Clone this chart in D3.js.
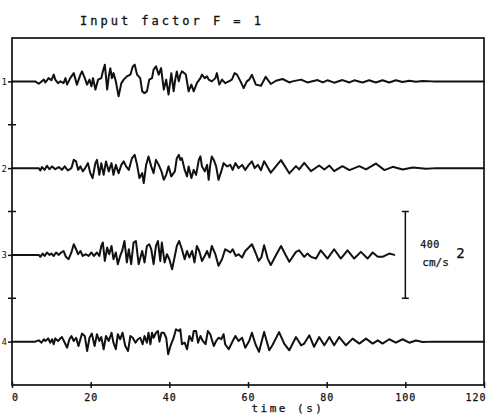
<!DOCTYPE html>
<html><head><meta charset="utf-8">
<script src="https://cdn.jsdelivr.net/npm/d3@7"></script>
<style>body{margin:0;background:#fff} svg{display:block}</style>
</head><body>
<script>
// ---- data (time in s, acceleration in cm/s^2) ----
const title = "Input factor F = 1";
const traceLabels = ["1", "2", "3", "4"];
const xTicks = [0, 20, 40, 60, 80, 100, 120];
const scaleBarValue = 400;     // cm/s^2
const scaleBarTime = 100;      // s
const xLabel = "time (s)";

const trace1 = [[0,0],[5.9,0],[6.8,-11],[8.1,8],[8.5,-5],[9.3,15],[10.0,5],[10.6,31],[11.0,8],[11.7,-8],[12.3,0],[13.1,-8],[13.6,15],[14.0,-15],[14.8,15],[15.7,38],[16.5,-15],[17.4,31],[17.8,46],[18.5,15],[19.1,-15],[19.7,8],[20.2,-23],[20.6,15],[21.2,-38],[21.9,8],[22.7,15],[23.1,46],[23.6,77],[24.2,-38],[24.6,23],[25.0,61],[25.4,15],[25.8,38],[26.4,0],[27.1,-69],[27.8,-8],[28.4,8],[29.2,23],[30.1,31],[30.7,69],[31.2,77],[31.8,31],[32.6,15],[33.1,-46],[33.7,-54],[34.3,-46],[34.9,8],[35.6,15],[36.0,54],[36.6,69],[37.3,31],[37.9,61],[38.6,-38],[39.2,8],[39.8,-61],[40.5,38],[41.1,-46],[41.5,8],[41.9,46],[42.4,0],[42.8,31],[43.2,46],[43.8,38],[44.2,31],[44.9,-46],[45.6,-15],[46.2,-46],[47.0,-8],[47.9,15],[48.3,31],[49.0,15],[49.6,23],[50.0,8],[50.8,0],[51.7,15],[52.1,38],[52.7,-15],[53.4,8],[54.2,-8],[55.1,0],[55.9,8],[56.6,38],[57.2,31],[58.1,0],[58.9,-31],[59.7,0],[60.3,8],[61.0,30],[62.0,-15],[63.3,-20],[64.5,21],[65.8,-12],[67.1,3],[68.8,11],[70.5,-5],[71.3,0],[73.5,8],[75.1,-5],[77.7,6],[79.0,-5],[80.2,5],[81.9,-6],[84.0,6],[85.8,-5],[87.0,5],[89.1,-5],[90.8,5],[92.5,-5],[94.2,5],[95.9,-5],[97.6,5],[99.3,-3],[101.0,3],[102.7,-2],[104.4,2],[107,0],[120,0]];

const trace2 = [[0,0],[6.8,0],[7.2,-11],[7.6,5],[8.3,-8],[8.9,11],[9.5,-5],[10.2,8],[11.0,-5],[11.9,5],[12.7,-8],[13.4,8],[14.2,-11],[15.1,0],[15.7,38],[16.3,31],[16.8,-8],[17.4,8],[18.0,-15],[18.6,0],[19.3,23],[19.9,-23],[20.5,-46],[21.2,23],[21.6,38],[22.2,-31],[22.7,23],[23.3,-31],[23.9,31],[24.6,-15],[25.3,23],[25.8,-31],[26.4,15],[27.1,-23],[27.8,15],[28.4,31],[29.0,8],[29.7,-8],[30.5,46],[31.2,61],[31.8,15],[32.4,-46],[33.1,-23],[33.5,-69],[34.1,15],[34.7,54],[35.4,8],[36.0,-23],[36.6,38],[37.3,15],[38.0,-15],[38.6,-54],[39.2,-31],[39.8,8],[40.5,-38],[41.4,-15],[41.9,46],[42.4,61],[42.8,38],[43.2,46],[43.9,-8],[44.5,-38],[44.9,8],[45.6,-46],[46.2,-8],[46.8,-31],[47.5,38],[47.9,54],[48.3,8],[49.0,-15],[49.6,15],[50.0,-54],[50.4,15],[50.8,54],[51.3,38],[51.9,8],[52.5,-54],[53.2,-15],[53.8,23],[54.7,8],[55.5,15],[56.1,-8],[56.8,23],[57.6,0],[58.5,15],[59.3,-8],[60.2,15],[61.0,31],[61.7,0],[62.5,15],[63.3,-10],[64.1,32],[65.8,-21],[68.4,37],[70.5,-24],[72.2,9],[73.0,-6],[74.3,24],[76.0,-14],[78.1,12],[79.4,-6],[80.7,12],[81.9,-14],[84.0,9],[85.8,-9],[88.3,9],[90.0,-6],[92.5,21],[94.7,-9],[96.8,6],[99.3,-6],[101.9,3],[105.3,-3],[108,0],[120,0]];

const trace3 = [[0,0],[6.8,0],[7.2,-9],[7.8,6],[8.3,-5],[8.9,11],[9.5,0],[10.0,6],[10.6,-5],[11.2,11],[11.9,0],[12.5,11],[13.1,18],[13.7,-9],[14.4,-20],[15.1,11],[15.7,49],[16.1,34],[16.8,3],[17.4,18],[18.0,-5],[18.8,3],[19.5,-5],[20.2,11],[20.8,-5],[21.6,11],[22.2,-5],[22.7,41],[23.1,57],[23.6,-28],[24.2,34],[24.7,3],[25.3,41],[25.8,-20],[26.4,11],[26.9,-43],[27.5,-5],[28.0,18],[28.6,64],[29.2,-35],[29.7,26],[30.3,-43],[30.9,57],[31.5,64],[32.2,-43],[33.1,18],[33.7,-35],[34.3,41],[34.9,49],[35.4,26],[36.0,-43],[36.6,41],[37.1,64],[37.7,-28],[38.1,57],[38.8,-35],[39.4,3],[40.0,-20],[40.7,-66],[41.4,-5],[41.9,41],[42.5,64],[43.2,26],[43.9,-20],[44.5,18],[45.1,-12],[45.8,18],[46.4,-35],[47.0,41],[47.6,18],[48.3,-28],[49.0,-5],[49.6,18],[50.2,-12],[50.8,41],[51.7,3],[52.5,-50],[53.4,-20],[54.2,26],[54.9,18],[55.5,11],[56.1,26],[56.9,-5],[57.6,3],[58.5,-12],[59.3,18],[60.2,34],[61.0,49],[61.9,11],[62.7,-28],[63.4,-12],[64.1,44],[65.0,-17],[65.8,-47],[67.1,-2],[68.4,41],[69.6,-2],[70.5,-32],[72.2,14],[73.0,21],[74.3,-9],[75.1,6],[76.0,-9],[77.3,-17],[78.5,21],[80.2,-17],[81.9,26],[83.6,-17],[85.3,21],[87.0,-17],[88.7,14],[90.4,-17],[91.7,11],[93.0,-9],[94.2,-9],[95.9,6],[97.2,0]];

const trace4 = [[0,0],[5.9,0],[6.8,6],[7.5,-5],[8.1,11],[8.5,3],[9.2,15],[9.7,-5],[10.2,11],[10.6,-12],[11.0,15],[11.7,3],[12.3,15],[12.7,21],[13.6,-12],[14.0,-28],[14.6,11],[15.1,26],[15.7,3],[16.3,18],[16.9,-20],[17.8,37],[18.5,26],[19.1,-43],[19.7,18],[20.3,37],[21.0,-20],[21.6,34],[22.2,3],[22.7,21],[23.3,-35],[23.9,26],[24.6,3],[25.3,41],[25.8,-5],[26.4,-35],[26.9,34],[27.5,11],[28.1,41],[28.8,-20],[29.5,-43],[30.1,26],[30.7,18],[31.4,-5],[32.0,11],[32.6,18],[33.2,-12],[33.7,26],[34.3,-5],[34.7,41],[35.2,-12],[35.6,41],[36.0,18],[36.6,41],[37.1,49],[37.5,0],[38.0,41],[38.6,41],[39.2,18],[39.7,-58],[40.3,-20],[41.1,18],[41.7,57],[42.4,49],[42.8,57],[43.2,-12],[43.9,-5],[44.5,-35],[45.1,26],[45.8,3],[46.2,49],[46.8,49],[47.3,-5],[47.9,26],[48.5,3],[49.2,-12],[49.8,49],[50.4,34],[51.3,-20],[51.9,3],[52.5,18],[53.2,11],[53.8,34],[54.2,-12],[55.1,-35],[55.9,-5],[56.8,26],[57.6,3],[58.5,18],[59.3,-28],[60.3,3],[61.0,41],[61.9,-12],[62.8,-47],[64.1,44],[65.4,-40],[66.2,-17],[67.9,44],[69.2,-9],[70.5,-40],[72.2,21],[73.5,-17],[74.3,-9],[75.6,29],[76.8,-24],[78.1,21],[79.4,-17],[80.7,21],[81.9,-17],[83.2,21],[84.9,-17],[86.6,14],[88.3,-9],[90.0,14],[91.7,-9],[93.0,6],[94.2,-9],[95.9,11],[97.6,-5],[99.3,11],[101.0,-5],[102.7,5],[104.4,-2],[107,0],[120,0]];

const traces = [trace1, trace2, trace3, trace4];

// ---- drawing ----
const W = 490, H = 417;
const ink = "#111";
const mono = "'DejaVu Sans Mono', 'Liberation Mono', monospace";

const svg = d3.select("body").append("svg").attr("width", W).attr("height", H);

const x = d3.scaleLinear().domain([0, 120]).range([12, 484]);
// vertical axis in cm/s^2 offset; trace k sits at k*400, 400 cm/s^2 = one trace spacing
const y = d3.scaleLinear().domain([200, 1800]).range([38, 385]);
const base = i => (i + 1) * scaleBarValue;

// frame
svg.append("rect").attr("x", x(0)).attr("y", y(200))
  .attr("width", x(120) - x(0)).attr("height", y(1800) - y(200))
  .attr("fill", "none").attr("stroke", ink).attr("stroke-width", 1.7);

// bottom axis (cross ticks)
const gB = svg.append("g").attr("transform", `translate(0,${y(1800)})`)
  .call(d3.axisBottom(x).tickValues(xTicks).tickSize(3).tickPadding(6).tickFormat(d3.format("d")));
gB.select(".domain").remove();
gB.selectAll("line").attr("stroke", ink).attr("stroke-width", 1.5).attr("y1", -3);
gB.selectAll("text").attr("font-family", mono).attr("font-size", 10).attr("fill", ink)
  .attr("letter-spacing", 1).attr("stroke", ink).attr("stroke-width", 0.25);
gB.selectAll("text").filter(d => d === 120).attr("text-anchor", "end").attr("dx", 2);
gB.selectAll("text").filter(d => d === 0).attr("dx", 3);

// left axis: labelled ticks at trace levels
const gL = svg.append("g").attr("transform", `translate(${x(0)},0)`)
  .call(d3.axisLeft(y).tickValues(traceLabels.map((d, i) => base(i)))
    .tickSize(4).tickPadding(1).tickFormat((d, i) => traceLabels[i]));
gL.select(".domain").remove();
gL.selectAll("line").attr("stroke", ink).attr("stroke-width", 1.5);
gL.selectAll("text").attr("font-family", mono).attr("font-size", 9).attr("fill", ink);

// minor cross ticks between traces
const minor = [600, 1000, 1400];
svg.append("g").selectAll("line").data(minor).join("line")
  .attr("x1", x(0) - 4).attr("x2", x(0) + 4)
  .attr("y1", d => y(d)).attr("y2", d => y(d))
  .attr("stroke", ink).attr("stroke-width", 1.5);

// traces
const line = d3.line().x(d => x(d[0]));
traces.forEach((tr, i) => {
  svg.append("path").datum(tr)
    .attr("d", line.y(d => y(base(i) - d[1])))
    .attr("fill", "none").attr("stroke", ink).attr("stroke-width", 2)
    .attr("stroke-linejoin", "round").attr("stroke-linecap", "round");
});

// scale bar
const sb = svg.append("g").attr("stroke", ink).attr("stroke-width", 1.5);
const sx = x(scaleBarTime), y0 = y(base(2) - scaleBarValue / 2), y1 = y(base(2) + scaleBarValue / 2);
sb.append("line").attr("x1", sx).attr("x2", sx).attr("y1", y0).attr("y2", y1);
sb.append("line").attr("x1", sx - 3.5).attr("x2", sx + 3.5).attr("y1", y0).attr("y2", y0);
sb.append("line").attr("x1", sx - 3.5).attr("x2", sx + 3.5).attr("y1", y1).attr("y2", y1);
svg.append("text").attr("x", sx + 15).attr("y", 248).text(String(scaleBarValue))
  .attr("font-family", mono).attr("font-size", 10).attr("letter-spacing", 0.5).attr("fill", ink)
  .attr("stroke", ink).attr("stroke-width", 0.25);
svg.append("text").attr("x", sx + 17).attr("y", 266).text("cm/s")
  .attr("font-family", mono).attr("font-size", 11).attr("fill", ink)
  .attr("stroke", ink).attr("stroke-width", 0.25);
svg.append("text").attr("x", sx + 51).attr("y", 258).text("2")
  .attr("font-family", mono).attr("font-size", 14).attr("fill", ink)
  .attr("stroke", ink).attr("stroke-width", 0.25);

// title
svg.append("text").attr("x", 80).attr("y", 25).text(title)
  .attr("font-family", mono).attr("font-size", 12).attr("letter-spacing", 3).attr("fill", ink)
  .attr("stroke", ink).attr("stroke-width", 0.3);

// x label
svg.append("text").attr("x", 288).attr("y", 412).attr("text-anchor", "middle").text(xLabel)
  .attr("font-family", mono).attr("font-size", 11).attr("letter-spacing", 2.5).attr("fill", ink)
  .attr("stroke", ink).attr("stroke-width", 0.25);
</script>
</body></html>
